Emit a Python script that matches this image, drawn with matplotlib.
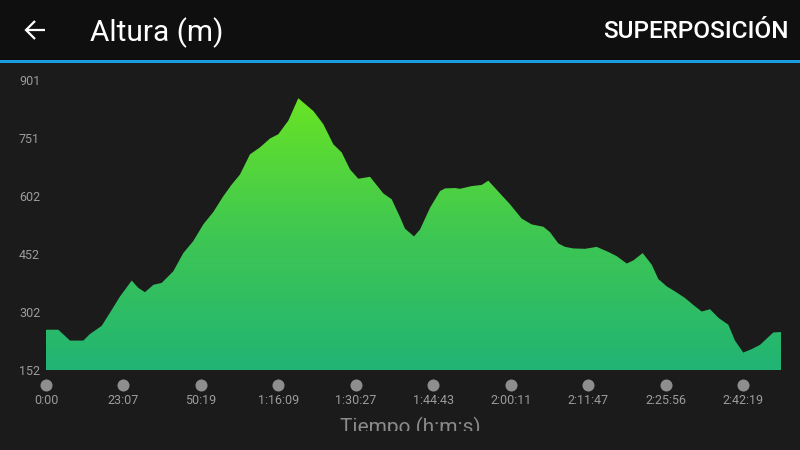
import matplotlib.pyplot as plt
import numpy as np
from matplotlib.colors import LinearSegmentedColormap
from matplotlib.patches import Rectangle
from matplotlib.transforms import Bbox, TransformedBbox, blended_transform_factory

# === DATOS ===
distancia = [0.0, 0.159, 0.31, 0.482, 0.568, 0.719, 0.826, 0.956, 1.107, 1.192,
             1.278, 1.386, 1.494, 1.644, 1.773, 1.902, 2.031, 2.160, 2.290, 2.398,
             2.505, 2.634, 2.763, 2.893, 3.0, 3.129, 3.258, 3.452, 3.581, 3.710,
             3.818, 3.926, 4.033, 4.184, 4.356, 4.464, 4.571, 4.636, 4.752, 4.830,
             4.959, 5.088, 5.153, 5.282, 5.346, 5.497, 5.626, 5.712, 5.863, 5.992,
             6.143, 6.272, 6.422, 6.508, 6.615, 6.702, 6.809, 6.960, 7.111, 7.261,
             7.370, 7.499, 7.584, 7.705, 7.822, 7.907, 8.015, 8.122, 8.251, 8.359,
             8.467, 8.574, 8.688, 8.811, 8.897, 9.004, 9.113, 9.220, 9.392, 9.491]
altura = [256, 256, 228, 228, 245, 266, 300, 342, 383, 364,
          353, 372, 377, 407, 454, 485, 528, 560, 601, 631,
          657, 709, 727, 750, 761, 796, 854, 821, 787, 735,
          714, 670, 646, 651, 608, 593, 547, 517, 497, 515,
          571, 614, 621, 622, 620, 627, 630, 641, 608, 580,
          543, 528, 522, 508, 479, 470, 466, 465, 470, 457,
          446, 427, 435, 454, 424, 387, 368, 355, 338, 320,
          303, 309, 286, 269, 228, 197, 206, 217, 249, 250]
etiquetas_x = ["0:00", "23:07", "50:19", "1:16:09", "1:30:27",
               "1:44:43", "2:00:11", "2:11:47", "2:25:56", "2:42:19"]
ticks_y = [152, 302, 452, 602, 751, 901]

# === COLORES ===
BG = "#1b1b1b"
HEADER = "#0f0f0f"
AZUL = "#1a9be2"
GRIS = "#9c9c9c"

plt.rcParams["font.family"] = ["Roboto", "DejaVu Sans"]

fig = plt.figure(figsize=(8, 4.5), dpi=100)
fig.patch.set_facecolor(BG)

# cabecera
fig.patches.append(Rectangle((0, 1 - 60 / 450), 1, 60 / 450, transform=fig.transFigure,
                             facecolor=HEADER, edgecolor="none", zorder=0))
fig.patches.append(Rectangle((0, 1 - 63 / 450), 1, 3 / 450, transform=fig.transFigure,
                             facecolor=AZUL, edgecolor="none", zorder=1))

# flecha atras
ya = 1 - 30 / 450
fig.add_artist(plt.Line2D([26 / 800, 45 / 800], [ya, ya], transform=fig.transFigure,
                          color="white", lw=1.6, solid_capstyle="butt"))
fig.add_artist(plt.Line2D([35 / 800, 26 / 800, 35 / 800], [ya + 9 / 450, ya, ya - 9 / 450],
                          transform=fig.transFigure, color="white", lw=1.6,
                          solid_joinstyle="miter", solid_capstyle="butt"))

fig.text(90 / 800, 1 - 33 / 450, "Altura (m)", color="white", fontsize=21.5,
         va="center", ha="left")
fig.text(789 / 800, 1 - 32 / 450, "SUPERPOSICIÓN", color="white", fontsize=17.5,
         fontweight="medium", va="center", ha="right")

# === GRAFICO ===
ax = fig.add_axes([46 / 800, 1 - 370 / 450, (781 - 46) / 800, 290 / 450])
ax.set_facecolor(BG)
for s in ax.spines.values():
    s.set_visible(False)

x = np.array(distancia)
y = np.array(altura)

poly = ax.fill_between(x, 152, y, facecolor="none", edgecolor="none")
cmap = LinearSegmentedColormap.from_list("g", ["#21b474", "#3fc752", "#68e424"])
grad = np.linspace(0, 1, 256).reshape(-1, 1)
img = ax.imshow(grad, cmap=cmap, origin="lower", aspect="auto",
                extent=[0, x[-1], 152, y.max()], zorder=2)
img.set_clip_path(poly.get_paths()[0], transform=ax.transData)
ax.set_xlim(0, x[-1])
ax.set_ylim(152, 901)

# eje y
ax.set_yticks(ticks_y)
ax.set_yticklabels([str(t) for t in ticks_y])
ax.tick_params(axis="y", length=0, pad=19.5, labelsize=9, labelcolor=GRIS)
for lab in ax.get_yticklabels():
    lab.set_horizontalalignment("left")

# eje x: puntos y etiquetas
pos_x = np.arange(len(etiquetas_x))
ax.set_xticks(pos_x)
ax.set_xticklabels(etiquetas_x)
ax.tick_params(axis="x", length=0, pad=17.5, labelsize=9, labelcolor=GRIS)
trans = blended_transform_factory(ax.transData, ax.transAxes)
ax.scatter(pos_x, np.full(len(pos_x), -15 / 290), s=75, color="#8e8e8e",
           transform=trans, clip_on=False, zorder=3, linewidths=0)

t = fig.text(410 / 800, 1 - 417 / 450, "Tiempo (h:m:s)", color="#8a8a8a", fontsize=15,
             ha="center", va="top")
t.set_clip_box(TransformedBbox(Bbox([[0, 1 - 431 / 450], [1, 1]]), fig.transFigure))
t.set_clip_on(True)

fig.savefig("out.png", dpi=100, facecolor=fig.get_facecolor())
